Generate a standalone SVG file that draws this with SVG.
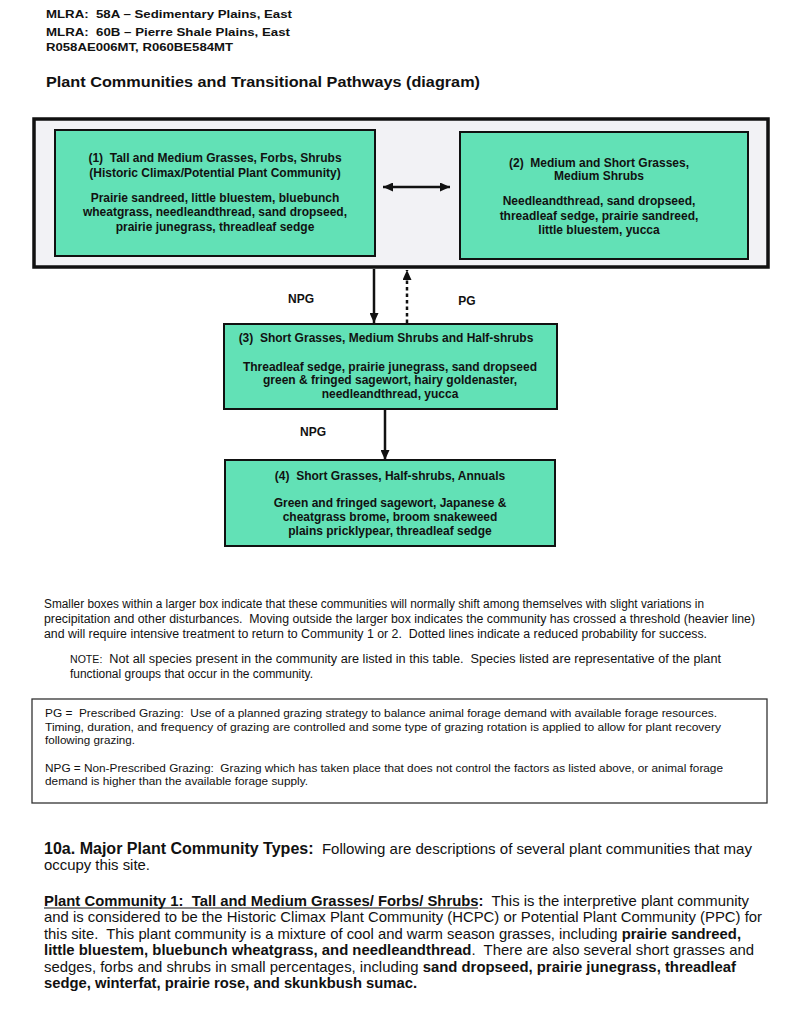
<svg xmlns="http://www.w3.org/2000/svg" width="800" height="1010" viewBox="0 0 800 1010">
<defs>
<style>
.hd{font-family:"Liberation Sans",Arial,sans-serif;font-weight:bold;fill:#111}
.box{fill:#62e1b6;stroke:#111;stroke-width:2}
.bt{font-family:"Liberation Sans",Arial,sans-serif;font-weight:bold;font-size:12px;text-anchor:middle;fill:#111}
.lbl{font-family:"Liberation Sans",Arial,sans-serif;font-weight:bold;font-size:12px;text-anchor:middle;fill:#111}
.nr{font-family:"Liberation Sans Narrow","Liberation Sans",Arial,sans-serif;font-size:12px;fill:#111}
.lg{font-family:"Liberation Sans",Arial,sans-serif;font-size:11px;fill:#111}
.bd{font-family:"Liberation Sans Narrow","Liberation Sans",Arial,sans-serif;font-size:15px;fill:#111}
.b{font-weight:bold}
.conn{stroke:#111;stroke-width:2.5;fill:none}
</style>
<marker id="ah" markerUnits="userSpaceOnUse" markerWidth="10" markerHeight="9" refX="10" refY="4.5" orient="auto-start-reverse" viewBox="0 0 10 9">
<path d="M0,0 L10,4.5 L0,9 Z" fill="#111"/>
</marker>
</defs>
<rect width="800" height="1010" fill="#ffffff"/>

<g id="header">
<text class="hd" x="46" y="17.5" font-size="11.5" textLength="246" lengthAdjust="spacingAndGlyphs" xml:space="preserve">MLRA:  58A – Sedimentary Plains, East</text>
<text class="hd" x="46" y="35.5" font-size="11.5" textLength="244" lengthAdjust="spacingAndGlyphs" xml:space="preserve">MLRA:  60B – Pierre Shale Plains, East</text>
<text class="hd" x="46" y="50.5" font-size="11.5" textLength="187" lengthAdjust="spacingAndGlyphs">R058AE006MT, R060BE584MT</text>
<text class="hd" x="46" y="87" font-size="15" textLength="434" lengthAdjust="spacingAndGlyphs">Plant Communities and Transitional Pathways (diagram)</text>
</g>

<g id="threshold-box">
<rect x="34" y="119" width="734" height="148" fill="#f2f2f5" stroke="#111" stroke-width="3.5"/>
</g>

<g id="community-1">
<rect class="box" x="55" y="130" width="320" height="126"/>
<text class="bt" x="215" y="162" xml:space="preserve">(1)  Tall and Medium Grasses, Forbs, Shrubs</text>
<text class="bt" x="215" y="176.5" font-size="11.5">(Historic Climax/Potential Plant Community)</text>
<text class="bt" x="215" y="201.5">Prairie sandreed, little bluestem, bluebunch</text>
<text class="bt" x="215" y="216">wheatgrass, needleandthread, sand dropseed,</text>
<text class="bt" x="215" y="230.5">prairie junegrass, threadleaf sedge</text>
</g>

<g id="community-2">
<rect class="box" x="460" y="132" width="288" height="127"/>
<text class="bt" x="599" y="167" xml:space="preserve">(2)  Medium and Short Grasses,</text>
<text class="bt" x="599" y="179.5" font-size="11.5">Medium Shrubs</text>
<text class="bt" x="599" y="204.5">Needleandthread, sand dropseed,</text>
<text class="bt" x="599" y="219.5">threadleaf sedge, prairie sandreed,</text>
<text class="bt" x="599" y="233.5">little bluestem, yucca</text>
</g>

<g id="community-3">
<rect class="box" x="224" y="324" width="333" height="85"/>
<text class="bt" x="386" y="342" xml:space="preserve">(3)  Short Grasses, Medium Shrubs and Half-shrubs</text>
<text class="bt" x="390" y="370.5">Threadleaf sedge, prairie junegrass, sand dropseed</text>
<text class="bt" x="390" y="384">green &amp; fringed sagewort, hairy goldenaster,</text>
<text class="bt" x="390" y="397.5">needleandthread, yucca</text>
</g>

<g id="community-4">
<rect class="box" x="225" y="460" width="330" height="86"/>
<text class="bt" x="390" y="480" xml:space="preserve">(4)  Short Grasses, Half-shrubs, Annuals</text>
<text class="bt" x="390" y="507">Green and fringed sagewort, Japanese &amp;</text>
<text class="bt" x="390" y="521">cheatgrass brome, broom snakeweed</text>
<text class="bt" x="390" y="534.5">plains pricklypear, threadleaf sedge</text>
</g>

<g id="connectors">
<line class="conn" x1="383" y1="187" x2="450" y2="187" marker-start="url(#ah)" marker-end="url(#ah)"/>
<line class="conn" x1="374" y1="269" x2="374" y2="323" marker-end="url(#ah)"/>
<line class="conn" x1="407" y1="323" x2="407" y2="270" stroke-width="3" stroke-dasharray="3.5,3" marker-end="url(#ah)"/>
<line class="conn" x1="385" y1="410" x2="385" y2="460" marker-end="url(#ah)"/>
<text class="lbl" x="301" y="303">NPG</text>
<text class="lbl" x="467" y="305">PG</text>
<text class="lbl" x="313" y="436">NPG</text>
</g>

<g id="explanation">
<text class="nr" x="44" y="608" textLength="660" lengthAdjust="spacingAndGlyphs">Smaller boxes within a larger box indicate that these communities will normally shift among themselves with slight variations in</text>
<text class="nr" x="44" y="623" textLength="711" lengthAdjust="spacingAndGlyphs" xml:space="preserve">precipitation and other disturbances.  Moving outside the larger box indicates the community has crossed a threshold (heavier line)</text>
<text class="nr" x="44" y="638" textLength="663" lengthAdjust="spacingAndGlyphs" xml:space="preserve">and will require intensive treatment to return to Community 1 or 2.  Dotted lines indicate a reduced probability for success.</text>
<text class="nr" x="70" y="663" textLength="651" lengthAdjust="spacingAndGlyphs" xml:space="preserve"><tspan font-size="10">NOTE:</tspan>  Not all species present in the community are listed in this table.  Species listed are representative of the plant</text>
<text class="nr" x="70" y="678" textLength="243" lengthAdjust="spacingAndGlyphs">functional groups that occur in the community.</text>
</g>

<g id="legend">
<rect x="32" y="699" width="735" height="104" fill="#ffffff" stroke="#333" stroke-width="1.3"/>
<text class="lg" x="45" y="717" textLength="672" lengthAdjust="spacingAndGlyphs" xml:space="preserve">PG =  Prescribed Grazing:  Use of a planned grazing strategy to balance animal forage demand with available forage resources.</text>
<text class="lg" x="45" y="730.5" textLength="676" lengthAdjust="spacingAndGlyphs">Timing, duration, and frequency of grazing are controlled and some type of grazing rotation is applied to allow for plant recovery</text>
<text class="lg" x="45" y="743.5" textLength="90" lengthAdjust="spacingAndGlyphs">following grazing.</text>
<text class="lg" x="45" y="772" textLength="678" lengthAdjust="spacingAndGlyphs" xml:space="preserve">NPG = Non-Prescribed Grazing:  Grazing which has taken place that does not control the factors as listed above, or animal forage</text>
<text class="lg" x="45" y="785" textLength="263" lengthAdjust="spacingAndGlyphs">demand is higher than the available forage supply.</text>
</g>

<g id="section-10a">
<text class="bd" x="44" y="854" textLength="708" lengthAdjust="spacingAndGlyphs" xml:space="preserve"><tspan class="b" font-size="16">10a. Major Plant Community Types:</tspan>  Following are descriptions of several plant communities that may</text>
<text class="bd" x="44" y="870" textLength="106" lengthAdjust="spacingAndGlyphs">occupy this site.</text>
<text class="bd" x="44" y="905.5" textLength="705" lengthAdjust="spacingAndGlyphs" xml:space="preserve"><tspan class="b">Plant Community 1:  Tall and Medium Grasses/ Forbs/ Shrubs:</tspan>  This is the interpretive plant community</text>
<line x1="44" y1="908" x2="478" y2="908" stroke="#111" stroke-width="1.2"/>
<text class="bd" x="44" y="922" textLength="718" lengthAdjust="spacingAndGlyphs">and is considered to be the Historic Climax Plant Community (HCPC) or Potential Plant Community (PPC) for</text>
<text class="bd" x="44" y="938.5" textLength="697" lengthAdjust="spacingAndGlyphs" xml:space="preserve">this site.  This plant community is a mixture of cool and warm season grasses, including <tspan class="b">prairie sandreed,</tspan></text>
<text class="bd" x="44" y="955" textLength="710" lengthAdjust="spacingAndGlyphs" xml:space="preserve"><tspan class="b">little bluestem, bluebunch wheatgrass, and needleandthread</tspan>.  There are also several short grasses and</text>
<text class="bd" x="44" y="971.5" textLength="692" lengthAdjust="spacingAndGlyphs" xml:space="preserve">sedges, forbs and shrubs in small percentages, including <tspan class="b">sand dropseed, prairie junegrass, threadleaf</tspan></text>
<text class="bd b" x="44" y="988" textLength="373" lengthAdjust="spacingAndGlyphs">sedge, winterfat, prairie rose, and skunkbush sumac.</text>
</g>
</svg>
